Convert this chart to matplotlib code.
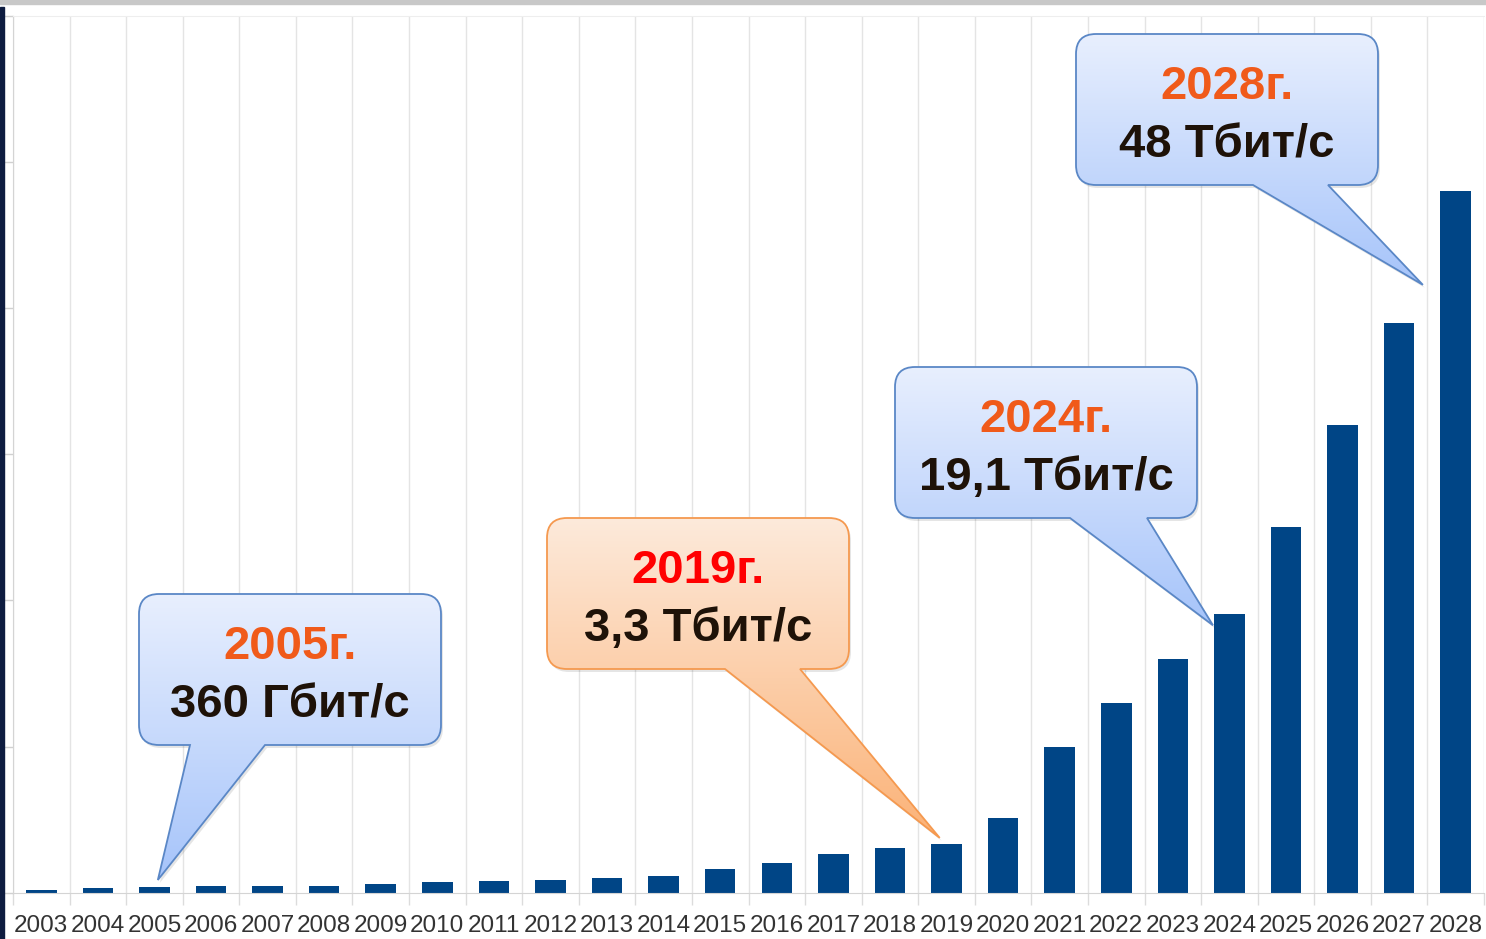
import numpy as np
import matplotlib.pyplot as plt
from matplotlib.path import Path
from matplotlib.patches import PathPatch, Rectangle
from matplotlib.transforms import Affine2D
from matplotlib.colors import to_rgb

## data (Tbit/s)
years = [2003, 2004, 2005, 2006, 2007, 2008, 2009, 2010, 2011, 2012, 2013, 2014, 2015,
         2016, 2017, 2018, 2019, 2020, 2021, 2022, 2023, 2024, 2025, 2026, 2027, 2028]
speed_tbps = [0.16, 0.30, 0.40, 0.44, 0.48, 0.48, 0.57, 0.71, 0.80, 0.89, 0.98, 1.16, 1.6,
              2.05, 2.64, 3.05, 3.3, 5.1, 10.0, 13.0, 16.0, 19.1, 25.0, 32.0, 39.0, 48.0]
year_labels = ['2005г.', '2019г.', '2024г.', '2028г.']
value_labels = ['360 Гбит/с', '3,3 Тбит/с', '19,1 Тбит/с', '48 Тбит/с']
callout_years = [2005, 2019, 2024, 2028]

W, H = 1486, 939
BASE, TOP = 892.7, 16

fig = plt.figure(figsize=(W / 100, H / 100), dpi=100)
ax = fig.add_axes([13 / W, (H - BASE) / H, (1484 - 13) / W, (BASE - TOP) / H])

x = np.arange(len(years))
ax.bar(x, speed_tbps, width=0.54, color='#004586', zorder=2)
ax.set_xlim(-0.5, len(years) - 0.5)
ax.set_ylim(0, 60)

ax.set_yticks(np.arange(0, 61, 10))
ax.set_yticklabels([])
ax.tick_params(axis='y', length=7.2, color='#d0d0d0', width=1)

ax.set_xticks(x)
ax.set_xticklabels([str(y) for y in years], fontsize=17.5, color='#333333',
                   family='Liberation Sans')
ax.tick_params(axis='x', which='major', length=0, pad=16)
ax.set_xticks(np.arange(-0.5, len(years)), minor=True)
ax.tick_params(axis='x', which='minor', length=8.6, color='#dcdcdc', width=1)
ax.grid(axis='x', which='minor', color='#e4e4e4', lw=1, zorder=0)

for s in ['left', 'bottom']:
    ax.spines[s].set_color('#d4d4d4')
ax.spines['top'].set_color('#eeeeee')
ax.spines['right'].set_visible(False)

## overlay in pixel coords for the callouts
ov = fig.add_axes([0, 0, 1, 1], zorder=5)
ov.set_xlim(0, W)
ov.set_ylim(H, 0)
ov.axis('off')
ov.patch.set_visible(False)


def to_ov(px, py):
    d = ax.transData.transform((px, py))
    return ov.transData.inverted().transform(d)


def bubble(x0, y0, x1, y1, r, b0, b1, tx, ty):
    M, L, C, Z = Path.MOVETO, Path.LINETO, Path.CURVE3, Path.CLOSEPOLY
    verts = [(x0 + r, y0), (x1 - r, y0), (x1, y0), (x1, y0 + r), (x1, y1 - r), (x1, y1),
             (x1 - r, y1), (b1, y1), (tx, ty), (b0, y1), (x0 + r, y1), (x0, y1),
             (x0, y1 - r), (x0, y0 + r), (x0, y0), (x0 + r, y0), (x0 + r, y0)]
    codes = [M, L, C, C, L, C, C, L, L, L, L, C, C, L, C, C, Z]
    return Path(verts, codes)


boxes = [(139, 594), (547, 518), (895, 367), (1076, 34)]
bases = [(190, 265), (725, 800), (1070, 1147), (1253, 1328)]
tips = [(0.06, 0.87), (-0.12, 3.75), (-0.29, 18.3), (-0.58, 41.6)]
year_colors = ['#f05a1a', '#ff0000', '#f05a1a', '#f05a1a']
fills = [('#e8effe', '#a6c4fa'), ('#fdeadb', '#fbb277'),
         ('#e8effe', '#a6c4fa'), ('#e8effe', '#a6c4fa')]
edges = ['#5a87c6', '#f5994f', '#5a87c6', '#5a87c6']
bw, bh = 302, 151

for i in range(4):
    x0, y0 = boxes[i]
    idx = years.index(callout_years[i])
    tx, ty = to_ov(idx + tips[i][0], tips[i][1])
    p = bubble(x0, y0, x0 + bw, y0 + bh, 20, bases[i][0], bases[i][1], tx, ty)

    shadow = PathPatch(p.transformed(Affine2D().translate(2, 3)),
                       transform=ov.transData, facecolor=(0, 0, 0, 0.10),
                       edgecolor='none', zorder=2)
    ov.add_patch(shadow)

    c0, c1 = np.array(to_rgb(fills[i][0])), np.array(to_rgb(fills[i][1]))
    t = np.linspace(0, 1, 256)[:, None, None]
    grad = c0 * (1 - t) + c1 * t
    im = ov.imshow(grad, extent=(min(x0, tx), max(x0 + bw, tx), ty, y0), origin='upper',
                   aspect='auto', interpolation='bilinear', zorder=3)
    patch = PathPatch(p, transform=ov.transData, facecolor='none',
                      edgecolor=edges[i], lw=1.3, zorder=4)
    ov.add_patch(patch)
    im.set_clip_path(patch)

    cx = x0 + bw / 2
    ov.text(cx, y0 + 65, year_labels[i], ha='center', va='baseline', fontsize=34,
            fontweight='bold', color=year_colors[i], family='Liberation Sans', zorder=6)
    ov.text(cx, y0 + 123, value_labels[i], ha='center', va='baseline', fontsize=34,
            fontweight='bold', color='#1e1208', family='Liberation Sans', zorder=6)

## frame bits around the chart
ov.add_patch(Rectangle((0, 0), W, 4, color='#c8c8c8', zorder=1))
ov.add_patch(Rectangle((0, 7), 3.5, H - 7, color='#0e1c40', zorder=1))

ov.set_xlim(0, W)
ov.set_ylim(H, 0)

fig.savefig('out.png', dpi=100)
